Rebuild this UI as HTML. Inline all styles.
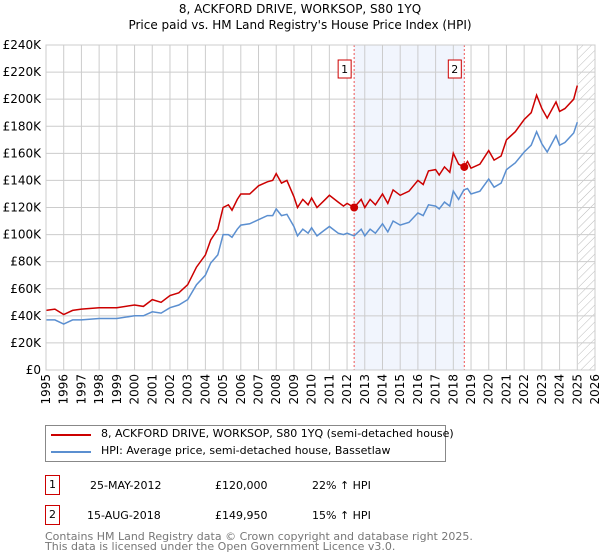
<!DOCTYPE html>
<html><head><meta charset="utf-8"><style>
body{margin:0;background:#fff;font-family:"DejaVu Sans","Liberation Sans",sans-serif;}
#wrap{position:relative;width:600px;height:560px;overflow:hidden;}
.t{position:absolute;white-space:nowrap;font-size:11px;color:#000;}
</style></head><body><div id="wrap">
<div class="t" style="left:0;width:600px;text-align:center;top:2px;font-size:12px;">8, ACKFORD DRIVE, WORKSOP, S80 1YQ</div>
<div class="t" style="left:0;width:600px;text-align:center;top:18px;font-size:12px;">Price paid vs. HM Land Registry's House Price Index (HPI)</div>
<svg id="ch" width="600" height="420" style="position:absolute;left:0;top:0"></svg>
<div style="position:absolute;left:45px;top:425px;width:399px;height:35px;border:1px solid #888;">
<div><div style="position:absolute;left:5px;top:8px;width:40px;height:2px;background:#cc0000"></div><div class="t" style="left:55px;top:1px;">8, ACKFORD DRIVE, WORKSOP, S80 1YQ (semi-detached house)</div></div>
<div><div style="position:absolute;left:5px;top:25px;width:40px;height:2px;background:#5b8fd0"></div><div class="t" style="left:55px;top:18px;">HPI: Average price, semi-detached house, Bassetlaw</div></div>
</div>
<div>
<div class="t" style="left:45px;top:475px;width:13px;height:18px;border:1px solid #c00;text-align:center;line-height:18px;">1</div>
<div class="t" style="left:90px;top:479px;">25-MAY-2012</div><div class="t" style="left:215px;top:479px;">£120,000</div><div class="t" style="left:312px;top:479px;">22% ↑ HPI</div></div>
<div>
<div class="t" style="left:45px;top:505px;width:13px;height:18px;border:1px solid #c00;text-align:center;line-height:18px;">2</div>
<div class="t" style="left:87px;top:509px;">15-AUG-2018</div><div class="t" style="left:215px;top:509px;">£149,950</div><div class="t" style="left:312px;top:509px;">15% ↑ HPI</div></div>
<div class="t" style="left:45px;top:530px;color:#777;">Contains HM Land Registry data © Crown copyright and database right 2025.</div>
<div class="t" style="left:45px;top:540px;color:#777;">This data is licensed under the Open Government Licence v3.0.</div>
</div>
<script>
const years=[1995,1995.5,1996,1996.5,1997,1998,1999,2000,2000.5,2001,2001.5,2002,2002.5,2003,2003.5,2004,2004.3,2004.7,2005,2005.3,2005.5,2005.8,2006,2006.5,2007,2007.5,2007.8,2008,2008.3,2008.6,2009,2009.2,2009.5,2009.8,2010,2010.3,2010.7,2011,2011.5,2011.8,2012,2012.4,2012.8,2013,2013.3,2013.6,2014,2014.3,2014.6,2015,2015.5,2016,2016.3,2016.6,2017,2017.2,2017.5,2017.8,2018,2018.3,2018.6,2018.8,2019,2019.5,2020,2020.3,2020.7,2021,2021.5,2022,2022.4,2022.7,2023,2023.3,2023.8,2024,2024.3,2024.8,2025];
const priceSeries=[44,45,41,44,45,46,46,48,47,52,50,55,57,63,76,85,96,104,120,122,118,126,130,130,136,139,140,145,138,140,128,120,126,122,127,120,125,129,124,121,123,120,126,120,126,122,130,123,133,129,132,140,137,147,148,144,150,146,160,152,150,154,149,152,162,155,158,170,176,185,190,203,193,186,198,191,193,200,210];
const hpiSeries=[37,37,34,37,37,38,38,40,40,43,42,46,48,52,63,70,79,85,100,100,98,104,107,108,111,114,114,119,114,115,106,99,104,101,105,99,103,106,101,100,101,99,104,99,104,101,108,102,110,107,109,116,114,122,121,119,124,121,132,126,133,134,130,132,141,135,138,148,153,161,166,176,167,161,173,166,168,175,183];
const yTicks=[0,20,40,60,80,100,120,140,160,180,200,220,240];
const xTicks=[1995,1996,1997,1998,1999,2000,2001,2002,2003,2004,2005,2006,2007,2008,2009,2010,2011,2012,2013,2014,2015,2016,2017,2018,2019,2020,2021,2022,2023,2024,2025,2026];
const saleDates=[2012.4,2018.62];
const salePrices=[120,149.95];
const saleLabels=["1","2"];
const X0=46,X1=595,Y0=370,Y1=45;
const sx=v=>X0+(v-1995)/31*(X1-X0);
const sy=v=>Y0-v/240*(Y0-Y1);
const svg=document.getElementById('ch');const NS='http://www.w3.org/2000/svg';
function mk(t,a){const e=document.createElementNS(NS,t);for(const k in a)e.setAttribute(k,a[k]);svg.appendChild(e);return e;}
let band=mk('rect',{x:sx(saleDates[0]),y:Y1,width:sx(saleDates[1])-sx(saleDates[0]),height:Y0-Y1,fill:'#eef3fc',opacity:0.8});


const defs=mk('defs',{});defs.innerHTML='<pattern id="h" width="6" height="6" patternUnits="userSpaceOnUse" patternTransform="rotate(45)"><line x1="0" y1="0" x2="0" y2="6" stroke="#bbb" stroke-width="1"/></pattern>';
let hatch=mk('rect',{x:sx(2025.05),y:Y1,width:X1-sx(2025.05),height:Y0-Y1,fill:'url(#h)'});


yTicks.forEach(v=>{let l=mk('line',{x1:X0,x2:X1,y1:sy(v),y2:sy(v),stroke:'#ccc','stroke-width':1});


let t=mk('text',{x:X0-5,y:sy(v)+4,'text-anchor':'end','font-size':12,'font-family':'DejaVu Sans, sans-serif'});t.textContent='£'+v+(v?'K':'');

});
xTicks.forEach(v=>{let l=mk('line',{x1:sx(v),x2:sx(v),y1:Y1,y2:Y0,stroke:'#ccc','stroke-width':1});


let t=mk('text',{x:0,y:0,'text-anchor':'end','font-size':12,'font-family':'DejaVu Sans, sans-serif',transform:`translate(${sx(v)+4},${Y0+4}) rotate(-90)`});t.textContent=v;

});
saleDates.forEach((d,i)=>{let l=mk('line',{x1:sx(d),x2:sx(d),y1:Y1,y2:Y0,stroke:'#e55','stroke-width':1,'stroke-dasharray':'2,2'});


let r=mk('rect',{x:sx(d)-16,y:60,width:13,height:18,fill:'#fff',stroke:'#c00'});


let t=mk('text',{x:sx(d)-9.5,y:73,'text-anchor':'middle','font-size':11,'font-family':'DejaVu Sans, sans-serif'});t.textContent=saleLabels[i];

});
const pts=a=>a.map((v,i)=>sx(years[i]).toFixed(1)+','+sy(v).toFixed(1)).join(' ');
let hl=mk('polyline',{points:pts(hpiSeries),fill:'none',stroke:'#5b8fd0','stroke-width':1.5});


let pl=mk('polyline',{points:pts(priceSeries),fill:'none',stroke:'#cc0000','stroke-width':1.5});


saleDates.forEach((d,i)=>{let c=mk('circle',{cx:sx(d),cy:sy(salePrices[i]),r:4,fill:'#cc0000'});

});
let ax=mk('rect',{x:X0,y:Y1,width:X1-X0,height:Y0-Y1,fill:'none',stroke:'#ccc'});


</script></body></html>
